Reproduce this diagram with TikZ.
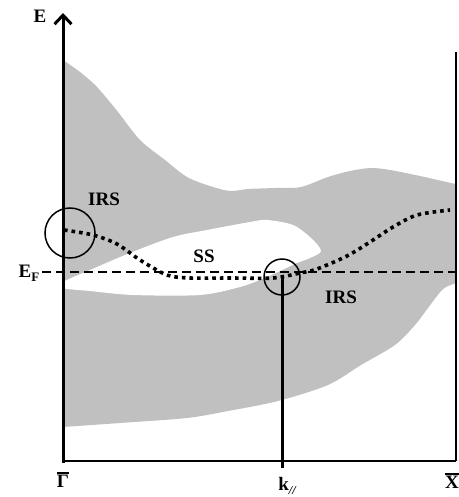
\documentclass[tikz,border=0pt]{standalone}
\usepackage{fontspec}
\setmainfont{Liberation Serif}
\usetikzlibrary{arrows.meta}
\definecolor{bandgray}{RGB}{192,192,192}
\newsavebox{\barletbox}
\newcommand{\barlet}[1]{\sbox{\barletbox}{#1}\makebox[0pt][l]{\raisebox{\dimexpr\ht\barletbox+2pt\relax}{\rule{\wd\barletbox}{1.5pt}}}\usebox{\barletbox}}
\tikzset{
  lbl/.style={font=\fontsize{19}{19}\selectfont\bfseries, inner sep=0pt},
  axisline/.style={line width=3pt},
  frameline/.style={line width=2.5pt},
  ringmark/.style={line width=1.5pt},
  fermi/.style={line width=2.8pt, dash pattern=on 9pt off 5pt},
  ssline/.style={line width=3.6pt, dash pattern=on 3.6pt off 4pt},
}
\begin{document}
\begin{tikzpicture}[x=1pt,y=-1pt]
\useasboundingbox (0,0) rectangle (458,497);
% gray bands
\fill[bandgray] plot[smooth] coordinates {(63,60) (80,72) (97,87) (118,112) (140,140) (165,160) (187,177) (210,186) (230,191) (248,189) (275,188) (301,187) (328,177) (350,171) (371,168) (390,170) (420,176) (451,183) (456,184)}
  -- (456,283)
  -- plot[smooth] coordinates {(448,286) (441,291) (428,308) (415,325) (395,345) (361,365) (328,385) (278,401) (228,411) (187,418) (120,423) (63,427)}
  -- cycle;
% white pocket
\fill[white] plot[smooth cycle] coordinates {(63,282) (90,270) (130,253) (173,237) (207,230) (250,222) (267,220) (293,225) (311,238) (321,251) (310,258) (297,263) (280,271) (262,279) (240,287) (200,295) (133,295) (90,291) (62,288)};
% coordinates
\coordinate (o) at (63,461);
\coordinate (top) at (63,13);
\coordinate (xr) at (456,461);
\coordinate (xrt) at (456,52);
\coordinate (kb) at (282,468);
\coordinate (kt) at (282,277);
\coordinate (efl) at (42,272);
\coordinate (efr) at (456,272);
% frame
\draw[frameline] (o) -- (xr);
\draw[frameline] (xr) -- (xrt);
\draw[axisline, -{Straight Barb[length=9pt,width=17pt]}] (63,463) -- (top);
\draw[axisline] (kt) -- (kb);
% Fermi level
\draw[fermi] (efl) -- (efr);
% surface state
\draw[ssline] plot[smooth] coordinates {(64,230) (93,235) (117,244) (140,260) (167,275) (190,278) (230,278) (273,278) (300,273) (317,269) (347,256) (370,242) (393,227) (417,215) (450,210)};
% circles
\node[ringmark, draw, circle, minimum size=50pt, inner sep=0pt] (c1) at (70,233) {};
\node[ringmark, draw, circle, minimum size=36pt, inner sep=0pt] (c2) at (282,277) {};
% labels
\node[lbl] (lE) at (40,16) {E};
\node[lbl] (lEF) at (29,273) {E\raisebox{-4pt}{\fontsize{13}{13}\selectfont F}};
\node[lbl] (irs1) at (104,199) {IRS};
\node[lbl] (irs2) at (341,297) {IRS};
\node[lbl] (ss) at (204,256) {SS};
\node[lbl] (lG) at (63,480) {\barlet{Γ}};
\node[lbl] (lk) at (287,486) {k\raisebox{-4pt}{\fontsize{12}{12}\selectfont\itshape //}};
\node[lbl] (lX) at (452,481) {\barlet{X}};
\end{tikzpicture}
\end{document}
